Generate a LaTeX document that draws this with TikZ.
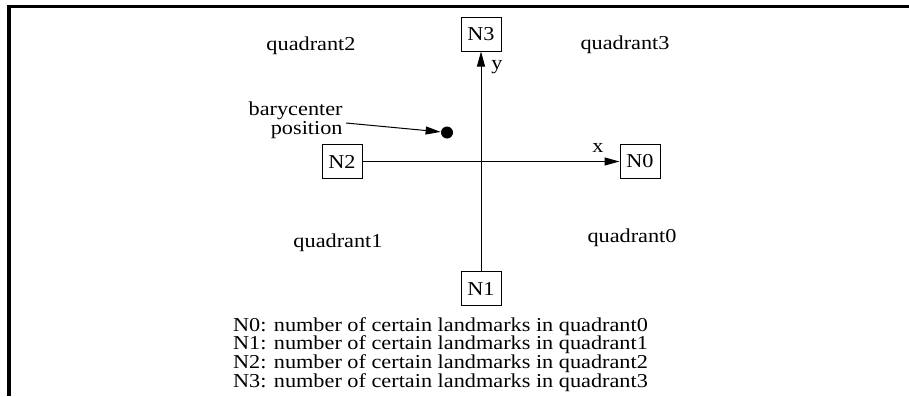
\documentclass[tikz,border=0pt]{standalone}
\usepackage{fontspec}
\setmainfont[FakeStretch=1.13]{Liberation Serif}
\usetikzlibrary{arrows.meta, positioning}
\tikzset{
    font=\fontsize{9.85}{12}\selectfont,
    >={Triangle[length=7.5pt,width=4pt]},
    % Boxes
    countbox/.style={rectangle, draw, line width=0.5pt,
                     minimum width=20pt, minimum height=17pt, inner sep=0pt},
    dot/.style={circle, fill, inner sep=0pt, minimum size=6pt},
    % Lines & labels
    axis/.style={->, line width=0.5pt},
    frame/.style={line width=1.6pt},
    lbl/.style={inner sep=0pt, align=center},
    legend/.style={anchor=base west, inner sep=0pt}
}

\begin{document}
\begin{tikzpicture}[x=0.5pt, y=-0.5pt]
\useasboundingbox (0,0) rectangle (909,396);

% frame
\draw[frame] (909,6.7) -- (9,6.7) -- (9,396);

% counters
\node[countbox] (n0) at (640,161.5) {N0};
\node[countbox] (n1) at (481,288.5) {N1};
\node[countbox] (n2) at (342,161.5) {N2};
\node[countbox] (n3) at (481,34) {N3};

\draw[axis] (n2) -- (n0);
\draw[axis] (n1) -- (n3);
\node[lbl] (xlbl) at (598,148) {x};
\node[lbl] (ylbl) at (497,67) {y};

% quadrants
\node[lbl] (q0) at (632,238) {quadrant0};
\node[lbl] (q1) at (338,243) {quadrant1};
\node[lbl] (q2) at (311,46) {quadrant2};
\node[lbl] (q3) at (625,45) {quadrant3};

% barycenter
\node[dot] (bc) at (447,132.5) {};
\node[lbl, align=right, anchor=east] (bary) at (343,120.4) {barycenter\\[-2.85pt]position};
\coordinate (from) at (346,123);
\draw[->, line width=0.5pt] (from) -- (bc);

% legend
\foreach \i in {0,...,3}
  \node[legend] (leg\i) at (232.7,331+18.67*\i) {N\i: number of certain landmarks in quadrant\i};

\end{tikzpicture}
\end{document}
